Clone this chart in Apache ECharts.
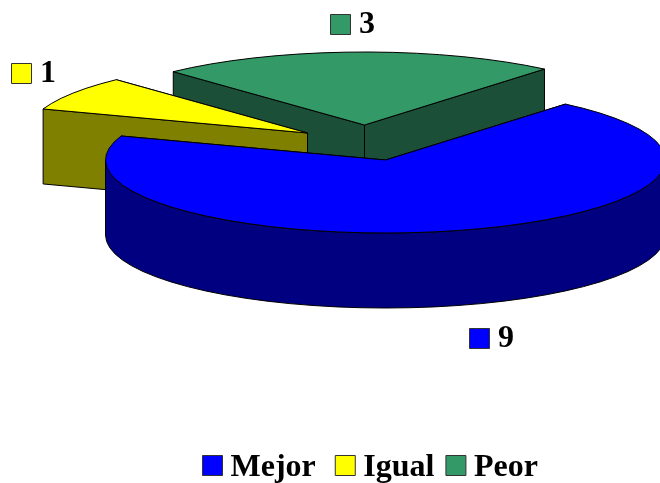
<!DOCTYPE html>
<html>
<head>
<meta charset="utf-8">
<style>html,body{margin:0;padding:0;background:#fff}#chart{width:660px;height:483px}</style>
<script src="https://cdn.jsdelivr.net/npm/echarts@6/dist/echarts.min.js"></script>
</head>
<body>
<div id="chart"></div>
<script>
// Survey result: number of answers per category
const categories = ['Mejor', 'Igual', 'Peor'];
const values = [9, 1, 3];

// Fill colours of the top faces and the darker side walls
const topColors = ['#0000ff', '#ffff00', '#339966'];
const wallColors = ['#000080', '#808000', '#1c4f38'];

// Tilted pie geometry: every slice is pulled out to its own centre
const RX = 280, RY = 73, DEPTH = 75, START_ANGLE = -50;
const sliceCenters = [[385.5, 160], [307.5, 133], [364.5, 125]];
const labelKeys = [[469, 328], [11, 63], [330, 14]];
const paintOrder = [3, 2, 1];
const FONT = 'bold 32px "Liberation Serif", "Times New Roman", serif';

const total = values.reduce((a, b) => a + b, 0);

function sliceAngles(index) {
  let a = START_ANGLE;
  for (let i = 0; i < index; i++) a += values[i] / total * 360;
  return [a, a + values[index] / total * 360];
}

function rimPoint(c, deg) {
  const t = deg * Math.PI / 180;
  return [c[0] + RX * Math.cos(t), c[1] + RY * Math.sin(t)];
}

function arcPoints(c, from, to) {
  const steps = Math.max(2, Math.ceil((to - from) / 5));
  const pts = [];
  for (let i = 0; i <= steps; i++) pts.push(rimPoint(c, from + (to - from) * i / steps));
  return pts;
}

function down(p) { return [p[0], p[1] + DEPTH]; }

function polygon(points, fill) {
  return {
    type: 'polygon',
    shape: { points: points },
    style: { fill: fill, stroke: '#000', lineWidth: 1 }
  };
}

function renderSlice(index, params, api) {
  const i = params.seriesIndex;
  const c = sliceCenters[i];
  const [a0, a1] = sliceAngles(i);
  const rimA = rimPoint(c, a0), rimB = rimPoint(c, a1);
  const children = [];

  // Cut faces, rear one first
  const cuts = [rimA, rimB].sort((p, q) => p[1] - q[1]);
  cuts.forEach(p => children.push(polygon([c, p, down(p), down(c)], wallColors[i])));

  // Outer wall, only where the rim faces the viewer
  const lo = Math.max(a0, 0), hi = Math.min(a1, 180);
  if (hi > lo) {
    const arc = arcPoints(c, lo, hi);
    children.push(polygon(arc.concat(arc.slice().reverse().map(down)), wallColors[i]));
  }

  // Top face
  children.push(polygon([c].concat(arcPoints(c, a0, a1)), topColors[i]));

  // Value label with its colour key
  const key = labelKeys[i];
  children.push({
    type: 'rect',
    shape: { x: key[0] + 0.5, y: key[1] + 0.5, width: 20, height: 20 },
    style: { fill: topColors[i], stroke: '#333', lineWidth: 1 }
  });
  children.push({
    type: 'text',
    style: {
      x: key[0] + 29, y: key[1] + 11,
      text: String(api.value(0)),
      font: FONT, fill: '#000', verticalAlign: 'middle', align: 'left'
    }
  });
  return { type: 'group', children: children };
}

const chart = echarts.init(document.getElementById('chart'), null, { renderer: 'canvas' });
chart.setOption({
  animation: false,
  backgroundColor: '#fff',
  legend: {
    data: categories,
    left: 202,
    top: 452,
    padding: 0,
    orient: 'horizontal',
    icon: 'rect',
    itemWidth: 20,
    itemHeight: 20,
    itemGap: 11,
    selectedMode: false,
    formatter: name => '{t|' + (name === 'Mejor' ? name + '\u00a0' : name) + '}',
    itemStyle: { borderColor: '#333', borderWidth: 1 },
    textStyle: {
      rich: {
        t: {
          fontFamily: '"Liberation Serif", "Times New Roman", serif',
          fontWeight: 'bold',
          fontSize: 32,
          color: '#000',
          padding: [5, 0, 0, 3]
        }
      }
    }
  },
  series: categories.map((name, i) => ({
    type: 'custom',
    name: name,
    coordinateSystem: 'none',
    z: paintOrder[i],
    silent: true,
    clip: false,
    itemStyle: { color: topColors[i] },
    data: [[values[i]]],
    renderItem: (params, api) => renderSlice(i, params, api)
  }))
});
</script>
</body>
</html>
